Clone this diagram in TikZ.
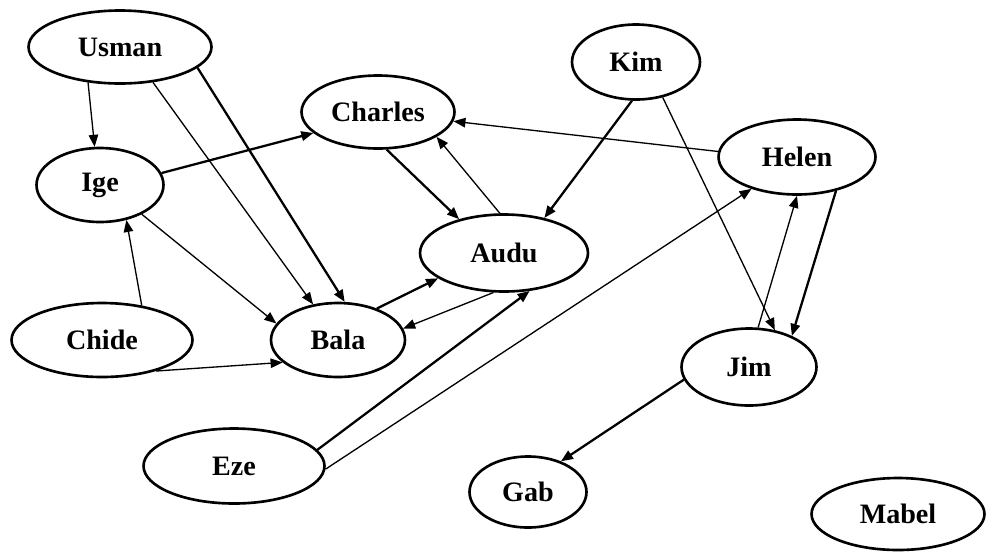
\documentclass[tikz,border=0pt]{standalone}
\usepackage{fontspec}
\setmainfont{Liberation Serif}
\usetikzlibrary{shapes.geometric,arrows.meta}
\tikzset{
    person/.style={ellipse, draw, line width=1.5pt, inner sep=0pt,
        font=\fontsize{16}{19}\selectfont\bfseries},
    link/.style={line width=0.75pt, -{Triangle[length=0.24cm, width=0.19cm]}},
    strong/.style={line width=1.3pt, -{Triangle[length=0.24cm, width=0.19cm]}}
}
\begin{document}
\begin{tikzpicture}[x=0.02cm, y=-0.02cm]
            \useasboundingbox (0, 0) rectangle (986, 552);
            \node[person, minimum width=3.66cm, minimum height=1.46cm] (usman) at (120, 47) {Usman};
            \node[person, minimum width=2.54cm, minimum height=1.48cm] (ige) at (100, 185) {Ige};
            \node[person, minimum width=3.06cm, minimum height=1.46cm] (charles) at (378, 112) {Charles};
            \node[person, minimum width=2.56cm, minimum height=1.5cm] (kim) at (636, 62) {Kim};
            \node[person, minimum width=3.14cm, minimum height=1.5cm] (helen) at (797, 157) {Helen};
            \node[person, minimum width=3.36cm, minimum height=1.54cm] (audu) at (504, 253) {Audu};
            \node[person, minimum width=3.62cm, minimum height=1.48cm] (chide) at (102, 340) {Chide};
            \node[person, minimum width=2.68cm, minimum height=1.48cm] (bala) at (338, 340) {Bala};
            \node[person, minimum width=3.62cm, minimum height=1.5cm] (eze) at (234, 466) {Eze};
            \node[person, minimum width=2.7cm, minimum height=1.54cm] (jim) at (749, 367) {Jim};
            \node[person, minimum width=2.34cm, minimum height=1.42cm] (gab) at (528, 492) {Gab};
            \node[person, minimum width=3.46cm, minimum height=1.44cm] (mabel) at (898, 514) {Mabel};
            \draw[link] (usman.228) -- (ige.98);
            \draw[link] (usman.313) -- (bala.125);
            \draw[strong] (usman.345) -- (bala.80);
            \draw[strong] (ige.11) -- (charles.198);
            \draw[link] (ige.325) -- (bala.165);
            \draw[link] (chide.41) -- (ige.307);
            \draw[link] (chide.330) -- (bala.202);
            \draw[strong] (charles.283) -- (audu.143);
            \draw[link] (audu.96) -- (charles.337);
            \draw[link] (helen.176) -- (charles.353);
            \draw[strong] (kim.264) -- (audu.41);
            \draw[link] (kim.307) -- (jim.55);
            \draw[link] (jim.77) -- (helen.270);
            \draw[strong] (helen.319) -- (jim.36);
            \draw[strong] (bala.39) -- (audu.201);
            \draw[link] (audu.255) -- (bala.10);
            \draw[strong] (eze.11) -- (audu.304);
            \draw[link] (eze.358) -- (helen.215);
            \draw[strong] (jim.191) -- (gab.43);
\end{tikzpicture}
\end{document}
